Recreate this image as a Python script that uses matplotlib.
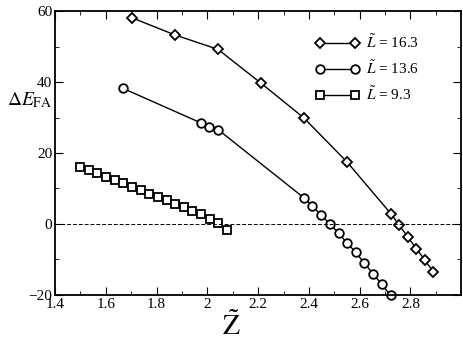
import matplotlib
matplotlib.use("Agg")
from matplotlib import pyplot as plt
from matplotlib.ticker import MultipleLocator

plt.rcParams['font.family'] = ['Liberation Serif', 'DejaVu Serif']
plt.rcParams['mathtext.fontset'] = 'stix'

# L = 16.3 (diamonds)
z_163 = [1.703, 1.871, 2.042, 2.211, 2.380, 2.550, 2.723, 2.756, 2.790, 2.824, 2.857, 2.891]
e_163 = [58.1, 53.3, 49.2, 39.7, 29.9, 17.5, 2.9, -0.3, -3.7, -7.0, -10.2, -13.5]

# L = 13.6 (circles)
z_136 = [1.668, 1.974, 2.008, 2.042, 2.380, 2.414, 2.448, 2.483, 2.517, 2.551, 2.585,
         2.619, 2.653, 2.687, 2.722]
e_136 = [38.2, 28.5, 27.2, 26.6, 7.4, 5.1, 2.5, 0.0, -2.6, -5.4, -8.0,
         -11.1, -14.0, -17.0, -20.1]

# L = 9.3 (squares)
z_93 = [1.498, 1.532, 1.566, 1.601, 1.635, 1.669, 1.703, 1.737, 1.771, 1.806,
        1.840, 1.874, 1.908, 1.941, 1.975, 2.009, 2.043, 2.076]
e_93 = [16.1, 15.2, 14.3, 13.3, 12.4, 11.5, 10.5, 9.6, 8.4, 7.5,
        6.7, 5.7, 4.9, 3.7, 2.7, 1.4, 0.3, -1.7]

fig = plt.figure(figsize=(4.63, 3.45), dpi=100)
ax = fig.add_axes([0.119, 0.145, 0.877, 0.823])

style = dict(color='black', lw=1.0, mfc='white', mec='black', mew=1.3)
ax.plot(z_163, e_163, marker='D', ms=4.8, label=r'$\tilde{L}$ = 16.3', clip_on=False, **style)
ax.plot(z_136, e_136, marker='o', ms=6.2, label=r'$\tilde{L}$ = 13.6', clip_on=False, **style)
ax.plot(z_93, e_93, marker='s', ms=5.2, label=r'$\tilde{L}$ = 9.3', clip_on=False, **style)

ax.axhline(0, color='black', lw=0.7, ls=(0, (4, 2)))

ax.set_xlim(1.4, 3.0)
ax.set_ylim(-20, 60)
ax.xaxis.set_major_locator(MultipleLocator(0.2))
ax.xaxis.set_minor_locator(MultipleLocator(0.1))
ax.yaxis.set_major_locator(MultipleLocator(20))
ax.yaxis.set_minor_locator(MultipleLocator(10))
ax.set_xticks([1.4, 1.6, 1.8, 2.0, 2.2, 2.4, 2.6, 2.8])
ax.set_xticklabels(['1.4', '1.6', '1.8', '2', '2.2', '2.4', '2.6', '2.8'])
ax.tick_params(which='both', direction='in', top=True, right=True, labelsize=11, pad=2)
ax.tick_params(which='major', length=6)
ax.tick_params(which='minor', length=3)
for s in ax.spines.values():
    s.set_linewidth(1.3)

ax.legend(loc='upper right', bbox_to_anchor=(0.93, 0.97), frameon=False, fontsize=11,
          handlelength=2.9, handletextpad=0.4, labelspacing=0.55, numpoints=2)

fig.text(0.5, 0.055, r'$\tilde{\mathrm{Z}}$', fontsize=20, ha='center', va='center')
fig.text(0.065, 0.71, r'$\Delta E_{\mathrm{FA}}$', fontsize=14, ha='center', va='center')

fig.savefig('out.png', dpi=100)
